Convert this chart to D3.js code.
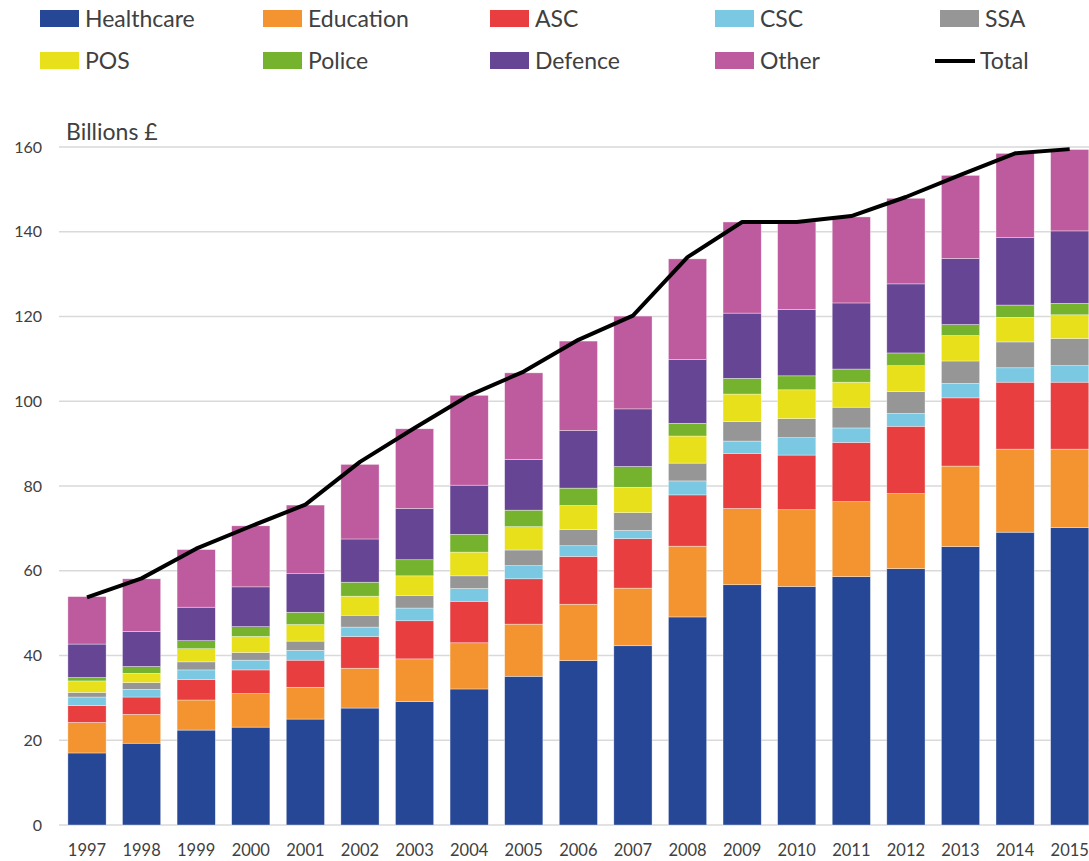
<!DOCTYPE html>
<html>
<head>
<meta charset="utf-8">
<script src="https://cdn.jsdelivr.net/npm/d3@7"></script>
<style>
  body { margin: 0; background: #fff; }
  svg { display: block; }
  text { font-family: Lato, "Open Sans", sans-serif; fill: #404040; }
</style>
</head>
<body>
<svg id="chart" width="1089" height="861"></svg>
<script>
const years = ["1997","1998","1999","2000","2001","2002","2003","2004","2005","2006","2007","2008","2009","2010","2011","2012","2013","2014","2015"];
const seriesNames = ["Healthcare","Education","ASC","CSC","SSA","POS","Police","Defence","Other"];
const seriesColors = ["#264796","#F39430","#E83E3F","#7BC8E2","#969696","#E8E01A","#75B32F","#674595","#BE5B9E"];
const healthcare = [17.0,19.3,22.4,23.1,25.0,27.6,29.1,32.1,35.1,38.8,42.3,49.1,56.7,56.3,58.6,60.5,65.7,69.1,70.2];
const education  = [7.2,6.8,7.1,7.9,7.5,9.4,10.1,10.9,12.3,13.3,13.6,16.7,18.0,18.1,17.7,17.7,19.0,19.6,18.5];
const asc        = [4.0,4.1,4.8,5.6,6.4,7.5,9.0,9.8,10.7,11.3,11.7,12.1,13.0,12.9,14.0,15.9,16.1,15.8,15.8];
const csc        = [2.0,1.8,2.3,2.3,2.3,2.2,3.0,3.0,3.1,2.5,1.9,3.3,2.9,4.1,3.4,3.0,3.4,3.4,3.9];
const ssa        = [1.1,1.6,1.9,1.8,2.2,2.8,3.0,3.0,3.7,3.8,4.2,4.2,4.6,4.5,4.9,5.2,5.3,6.1,6.4];
const pos        = [2.7,2.2,3.1,3.8,3.9,4.5,4.6,5.6,5.5,5.7,6.0,6.4,6.5,6.8,5.9,6.1,6.0,5.8,5.6];
const police     = [0.8,1.6,1.9,2.3,2.9,3.3,3.8,4.2,3.9,4.1,4.9,3.0,3.7,3.3,3.1,3.0,2.6,2.9,2.7];
const defence    = [7.9,8.3,7.9,9.4,9.1,10.2,12.1,11.6,12.0,13.6,13.6,15.1,15.4,15.7,15.6,16.3,15.6,15.9,17.1];
const other      = [11.2,12.4,13.6,14.4,16.2,17.6,18.8,21.2,20.4,21.1,21.9,23.7,21.5,20.6,20.3,20.2,19.6,19.9,19.2];
const total      = [53.7,58.2,65.2,70.5,75.6,85.7,93.7,101.4,107.0,114.5,120.2,134.0,142.3,142.3,143.7,148.2,153.4,158.5,159.5];
const yTicks = [0,20,40,60,80,100,120,140,160];

const seriesValues = [healthcare, education, asc, csc, ssa, pos, police, defence, other];
const rows = years.map((y, i) => {
  const r = { year: y };
  seriesNames.forEach((s, k) => r[s] = seriesValues[k][i]);
  return r;
});

const svg = d3.select("#chart");
const x = d3.scaleBand().domain(years).range([59.7, 1097]).paddingInner(0.3).paddingOuter(0.15);
const y = d3.scaleLinear().domain([0, 160]).range([825, 147]);

// gridlines
svg.append("g").selectAll("line").data(yTicks).join("line")
  .attr("x1", 59).attr("x2", 1089)
  .attr("y1", d => y(d)).attr("y2", d => y(d))
  .attr("stroke", "#d9d9d9").attr("stroke-width", 1.5);

// y axis labels
const yAxis = d3.axisLeft(y).tickValues(yTicks).tickSize(0).tickPadding(0);
const gy = svg.append("g").attr("transform", "translate(42,0)").call(yAxis);
gy.select(".domain").remove();
gy.selectAll("text").style("font-size", "16px").style("fill", "#404040")
  .style("font-family", "Lato, sans-serif");

// x axis labels
const xAxis = d3.axisBottom(x).tickSize(0).tickPadding(0);
const gx = svg.append("g").attr("transform", "translate(0,844)").call(xAxis);
gx.select(".domain").remove();
gx.selectAll("text").style("font-size", "16.5px").style("fill", "#404040")
  .style("font-family", "Lato, sans-serif");

// stacked bars
const stack = d3.stack().keys(seriesNames);
const stacked = stack(rows);
svg.append("g").selectAll("g").data(stacked).join("g")
  .attr("fill", (d, i) => seriesColors[i])
  .selectAll("rect").data(d => d).join("rect")
  .attr("x", d => x(d.data.year))
  .attr("width", x.bandwidth())
  .attr("y", d => y(d[1]))
  .attr("height", d => y(d[0]) - y(d[1]))
  .attr("stroke", "#ffffff").attr("stroke-width", 0.6).attr("stroke-opacity", 0.6);

// total line
const line = d3.line().x((d, i) => x(years[i]) + x.bandwidth() / 2).y(d => y(d));
svg.append("path").datum(total)
  .attr("d", line).attr("fill", "none")
  .attr("stroke", "#000").attr("stroke-width", 4).attr("stroke-linejoin", "round");

// axis title
svg.append("text").attr("x", 66).attr("y", 140).text("Billions £")
  .style("font-size", "23px");

// legend
const legendItems = seriesNames.map((s, i) => ({ name: s, color: seriesColors[i], type: "rect" }));
legendItems.push({ name: "Total", color: "#000", type: "line" });
const colX = [40, 263, 490, 715, 940];
const rowY = [10, 52];
const lg = svg.append("g");
legendItems.forEach((it, i) => {
  const cx = colX[i % 5], ry = rowY[Math.floor(i / 5)];
  const g = lg.append("g").attr("transform", `translate(${cx},${ry})`);
  if (it.type === "rect") {
    g.append("rect").attr("width", 39).attr("height", 17).attr("fill", it.color);
    g.append("text").attr("x", 45).attr("y", 17).text(it.name).style("font-size", "23px");
  } else {
    g.append("line").attr("x1", -5).attr("x2", 35).attr("y1", 9).attr("y2", 9)
      .attr("stroke", "#000").attr("stroke-width", 4);
    g.append("text").attr("x", 40).attr("y", 17).text(it.name).style("font-size", "23px");
  }
});
</script>
</body>
</html>
